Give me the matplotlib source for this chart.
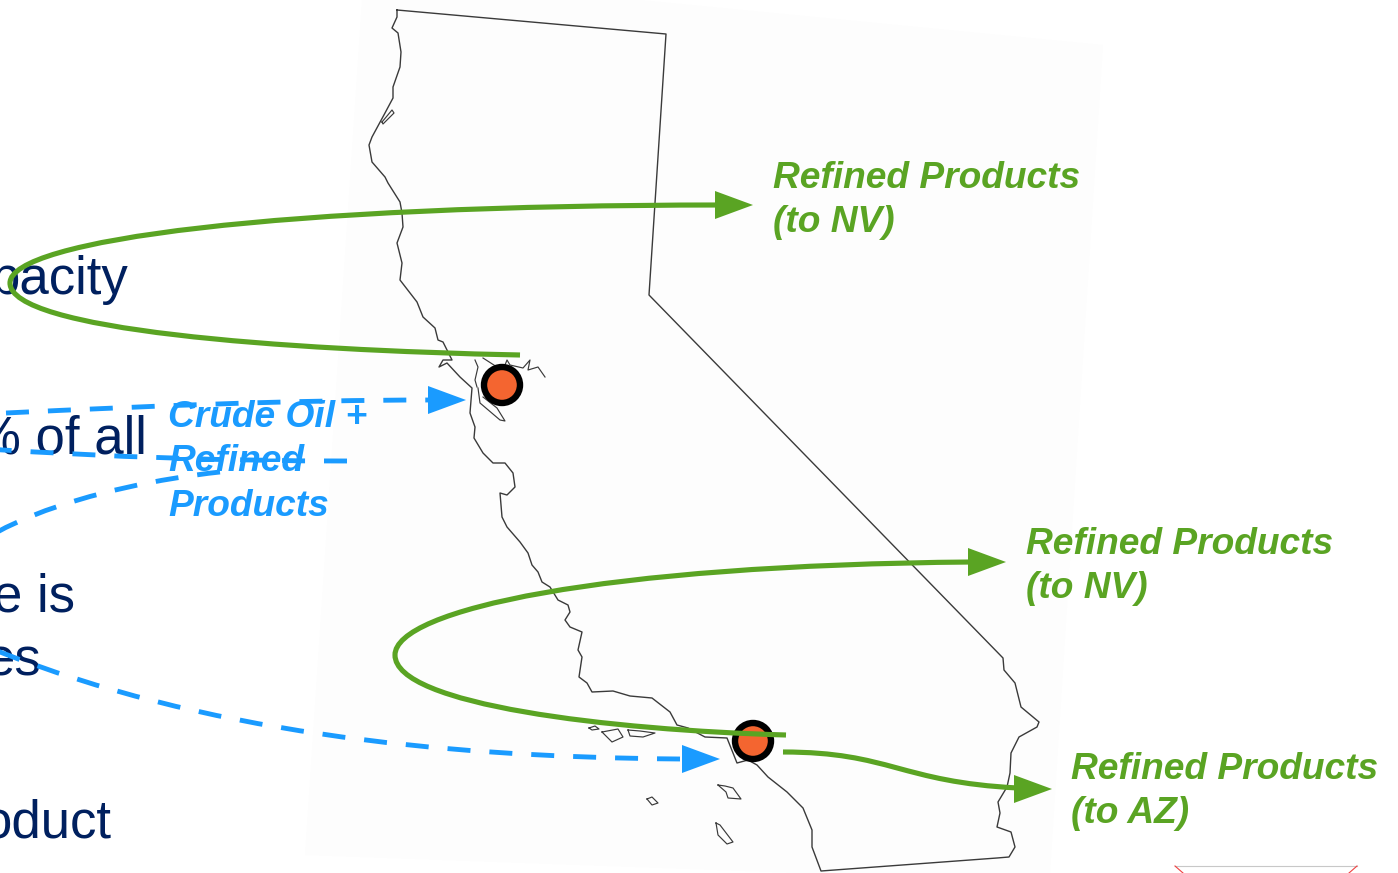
import matplotlib
matplotlib.use("Agg")
import matplotlib.pyplot as plt
from matplotlib.path import Path
from matplotlib.patches import PathPatch, Polygon, Circle

plt.rcParams['font.family'] = ['Liberation Sans', 'DejaVu Sans']

W, H = 1398, 873
NAVY = '#00205F'
GREEN = '#5AA423'
BLUE = '#1A9BFF'
ORANGE = '#F46530'
OUTLINE = '#3A3A3A'

map_panel = [(362, 0), (640, 0), (1103, 45), (1050, 873), (800, 873), (305, 855)]

state_border = [
    (397,10),(666,34),(649,295),(1003,658),(1004,670),(1015,683),(1021,707),(1039,722),
    (1037,727),(1019,737),(1011,753),(1010,773),(1007,787),(998,802),(1000,813),(997,827),
    (1011,832),(1015,847),(1009,857),(997,858),(821,871),(818,863),(812,847),(812,830),
    (803,808),(787,792),(768,777),(757,765),(748,760),(737,763),(733,753),(727,738),(705,737),
    (688,728),(677,725),(670,712),(652,698),(630,696),(613,691),(592,692),(587,683),(579,677),
    (582,657),(578,650),(582,632),(570,627),(565,620),(570,612),(568,605),(558,600),(550,587),
    (542,582),(538,572),(532,565),(528,553),(520,542),(507,527),(502,517),(500,493),(507,495),
    (515,487),(513,473),(505,463),(493,463),(483,453),(474,438),(475,427),(470,413),(472,388),
    (460,377),(447,363),(439,367),(443,360),(452,360),(447,350),(443,342),(438,340),(435,328),
    (423,317),(417,302),(400,280),(402,263),(397,243),(403,227),(402,213),(400,202),(388,183),
    (385,177),(372,162),(369,145),(372,137),(385,113),(393,98),(393,87),(400,67),(401,52),
    (398,33),(392,28),(397,17),(397,10),
]
bay_pieces = [
    [(475,360),(478,367),(475,380),(477,387)],
    [(483,358),(497,367),(503,370),(507,360),(510,365),(523,368),(530,360),(528,370),(538,367),(545,377)],
    [(478,388),(480,403),(500,420),(505,421),(497,408),(483,397)],
    [(382,122),(392,110),(394,113),(383,124),(382,122)],
]
islands = [
    [(589,728),(595,726),(599,729),(592,730),(589,728)],
    [(602,732),(618,729),(623,737),(612,742),(602,732)],
    [(628,730),(630,736),(643,737),(655,733),(640,731),(628,730)],
    [(718,785),(725,786),(733,788),(741,799),(728,798),(726,792),(718,785)],
    [(647,799),(652,797),(658,803),(652,805),(647,799)],
    [(716,823),(720,825),(733,842),(727,844),(718,835),(716,823)],
]
refineries = [(502, 385), (753, 741)]

green_curves = [
    [(520,355),(280,350),(10,330),(10,283),(10,240),(280,205),(722,205)],
    [(786,735),(610,730),(395,705),(395,655),(395,610),(600,565),(972,562)],
    [(783,752),(890,752),(900,782),(1018,788)],
]
green_heads = [(753, 205), (1006, 562), (1052, 789)]
blue_curves = [
    [(6,413),(150,406),(290,400),(432,400)],
    [(347,461),(230,461),(110,457),(-13,449)],
    [(220,472),(100,485),(-60,530),(-60,600)],
    [(680,759),(430,757),(200,730),(0,652),(-30,640),(-60,625),(-60,600)],
]
blue_heads = [(466, 400), (720, 759)]

body_texts = [("pacity", 128, 294), ("% of all", 147, 453), ("e is", 75, 612), ("es", 42, 676), ("oduct", 112, 837)]
green_labels = [("Refined Products\n(to NV)", 773, 191), ("Refined Products\n(to NV)", 1026, 557), ("Refined Products\n(to AZ)", 1071, 782)]
blue_label = ("Crude Oil +\nRefined\nProducts", 168, 430)

fig = plt.figure(figsize=(W/100, H/100), dpi=100, facecolor='white')
ax = fig.add_axes([0, 0, 1, 1])
ax.set_xlim(0, W)
ax.set_ylim(H, 0)
ax.axis('off')

ax.add_patch(Polygon(map_panel, closed=True, fc='#FDFDFD', ec='none', zorder=0))

for label, x, y in body_texts:
    ax.text(x, y, label, ha='right', va='baseline', fontsize=38, color=NAVY, zorder=1)

def polyline(pts, lw=1.0):
    xs, ys = zip(*pts)
    ax.plot(xs, ys, color=OUTLINE, lw=lw, solid_joinstyle='round', zorder=2)

polyline(state_border)
for p in bay_pieces + islands:
    polyline(p, 0.85)

for c in refineries:
    ax.add_patch(Circle(c, 18, fc=ORANGE, ec='black', lw=4.6, zorder=3))

def bezier(pts):
    codes = [Path.MOVETO] + [Path.CURVE4] * (len(pts) - 1)
    return Path(pts, codes)

def head(tip, color, length=38, half=14):
    x, y = tip
    ax.add_patch(Polygon([(x - length, y - half), (x, y), (x - length, y + half)],
                         closed=True, fc=color, ec='none', zorder=5))

for pts, tip in zip(green_curves, green_heads):
    ax.add_patch(PathPatch(bezier(pts), fc='none', ec=GREEN, lw=3.7, capstyle='butt', zorder=4))
    head(tip, GREEN)

for pts in blue_curves:
    ax.add_patch(PathPatch(bezier(pts), fc='none', ec=BLUE, lw=3.5, capstyle='butt',
                           linestyle=(0, (4.73, 3.9)), zorder=4))
for tip in blue_heads:
    head(tip, BLUE)

for label, x, y in green_labels:
    ax.text(x, y - 30, label, ha='left', va='top', fontsize=26.7, fontweight='bold', fontstyle='italic',
            color=GREEN, linespacing=1.35, zorder=6)
ax.text(blue_label[1], blue_label[2] - 30, blue_label[0], ha='left', va='top', fontsize=26.7,
        fontweight='bold', fontstyle='italic', color=BLUE, linespacing=1.35, zorder=6)

ax.plot([1175, 1357], [866, 866], color='#C8C8C8', lw=0.8, zorder=1)
ax.plot([1175, 1183], [866, 873], color='#F04040', lw=0.8, zorder=1)
ax.plot([1357, 1349], [866, 873], color='#F04040', lw=0.8, zorder=1)

fig.savefig('out.png', dpi=100, facecolor='white')
